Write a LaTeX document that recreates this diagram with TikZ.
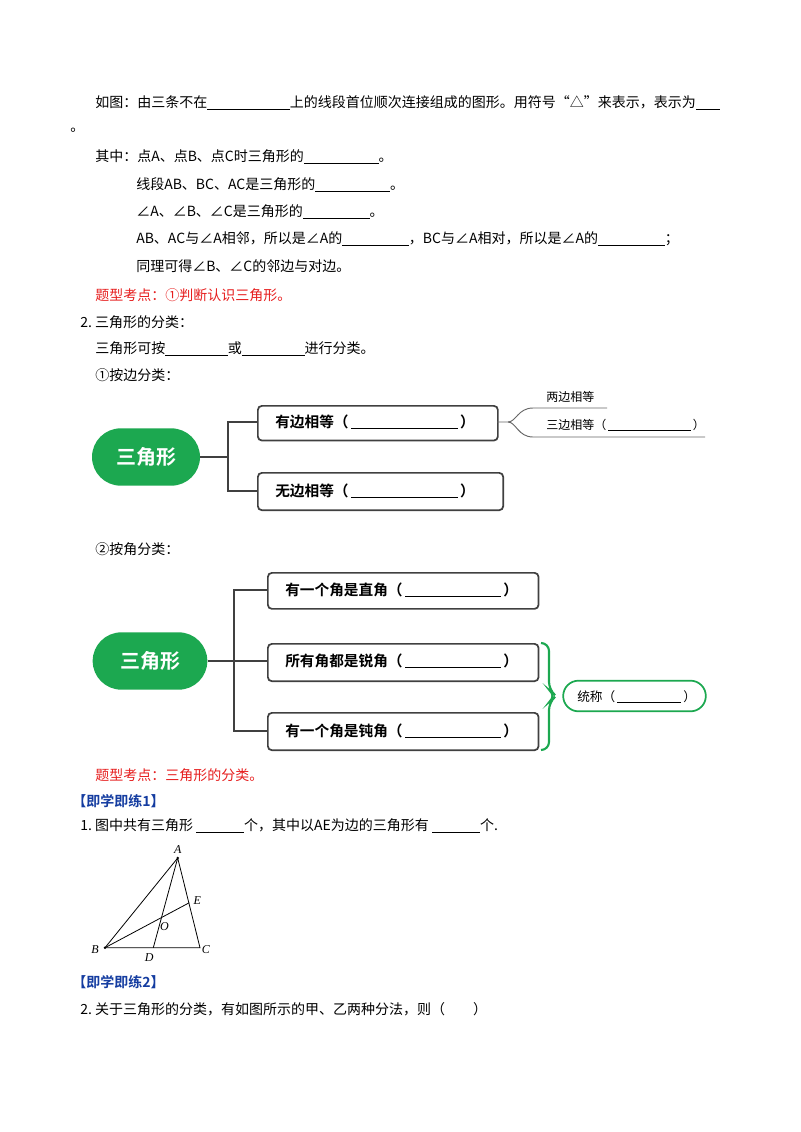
\documentclass[tikz,border=0pt]{standalone}
\usepackage{fontspec}
\setmainfont{Liberation Serif}
\newfontfamily\cjk{Noto Sans CJK SC}
\newfontfamily\cjkb{Noto Sans CJK SC Bold}
\usetikzlibrary{calc,intersections,shapes.misc}
\definecolor{gr}{RGB}{28,168,80}
\definecolor{rd}{RGB}{230,30,30}
\definecolor{bl}{RGB}{20,60,160}
\begin{document}
\begin{tikzpicture}[x=0.75pt,y=-0.75pt,
  txt/.style={anchor=west,inner sep=0,font=\cjk\fontsize{10.5}{12}\selectfont},
  box/.style={draw=black!75,line width=1.3pt,rounded corners=3pt,anchor=north west,inner sep=0},
  pill/.style={fill=gr,rounded rectangle,text=white,font=\cjkb\fontsize{15}{18}\selectfont,inner sep=0},
  btxt/.style={anchor=west,inner sep=0,font=\cjkb\fontsize{11}{13}\selectfont},
  ln/.style={draw=black!75,line width=1.6pt}]
\useasboundingbox (0,0) rectangle (800,1132);
\def\bl#1{\rule[-2pt]{#1}{0.6pt}}
\node[txt] (t1) at (95,103) {如图：由三条不在\bl{62pt}上的线段首位顺次连接组成的图形。用符号“△”来表示，表示为\bl{18pt}};
\node[txt] (t2) at (70,130) {。};
\node[txt] (t3) at (95,157) {其中：点A、点B、点C时三角形的\bl{56pt}。};
\node[txt] (t4) at (136,185) {线段AB、BC、AC是三角形的\bl{56pt}。};
\node[txt] (t5) at (136,212) {∠A、∠B、∠C是三角形的\bl{50pt}。};
\node[txt] (t6) at (136,239) {AB、AC与∠A相邻，所以是∠A的\bl{50pt}，BC与∠A相对，所以是∠A的\bl{50pt}；};
\node[txt] (t7) at (136,266) {同理可得∠B、∠C的邻边与对边。};
\node[txt,text=rd] (t8) at (95,295) {题型考点：①判断认识三角形。};
\node[txt] (t9) at (80,322) {2.\ 三角形的分类：};
\node[txt] (t10) at (95,349) {三角形可按\bl{47pt}或\bl{47pt}进行分类。};
\node[txt] (t11) at (95,375) {①按边分类：};
% diagram 1
\node[pill,minimum width=81pt,minimum height=43pt] (p1) at (146,457) {三角形};
\node[box,minimum width=180pt,minimum height=26pt] (b1) at (257,405) {};
\node[btxt] at (275,422) {有边相等（\,\rule[-1pt]{80pt}{0.6pt}\,）};
\node[box,minimum width=184pt,minimum height=28pt] (b2) at (257,472) {};
\node[btxt] at (275,491) {无边相等（\,\rule[-1pt]{80pt}{0.6pt}\,）};
\coordinate (j1) at (228,457);
\draw[ln] (p1.east) -- (j1);
\draw[ln] (b1.west|-0,422) -| (j1) |- (b2.west|-0,491);
\draw[black!60,line width=0.7pt] (497,422) -- (508,422) .. controls (516,422) and (518,408) .. (533,408) -- (607,408);
\draw[black!60,line width=0.7pt] (508,422) .. controls (516,422) and (518,437) .. (533,437) -- (705,437);
\node[txt,font=\cjk\fontsize{9}{11}\selectfont] (s1) at (546,397) {两边相等};
\node[txt,font=\cjk\fontsize{9}{11}\selectfont] (s2) at (546,425) {三边相等（\,\rule[-1pt]{62pt}{0.5pt}\,）};
\node[txt] (t12) at (95,549) {②按角分类：};
% diagram 2
\node[pill,minimum width=86pt,minimum height=43pt] (p2) at (150,661) {三角形};
\node[box,minimum width=203pt,minimum height=27pt] (c1) at (267,572) {};
\node[btxt] at (285,590) {有一个角是直角（\,\rule[-1pt]{72pt}{0.6pt}\,）};
\node[box,minimum width=203pt,minimum height=28pt] (c2) at (267,643) {};
\node[btxt] at (285,661) {所有角都是锐角（\,\rule[-1pt]{72pt}{0.6pt}\,）};
\node[box,minimum width=203pt,minimum height=28pt] (c3) at (267,712) {};
\node[btxt] at (285,731) {有一个角是钝角（\,\rule[-1pt]{72pt}{0.6pt}\,）};
\coordinate (j2) at (234,661);
\draw[ln] (p2.east) -- (c2.west|-0,661);
\draw[ln] (c1.west|-0,590) -| (j2) |- (c3.west|-0,731);
\draw[gr,line width=1.6pt,rounded corners=6pt] (541,643) -- (549,643) -- (549,690) -- (556,696) -- (549,702) -- (549,750) -- (541,750);
\node[draw=gr,line width=1.3pt,rounded rectangle,minimum width=107pt,minimum height=23pt,inner sep=0] (tc) at (634.5,696) {};
\node[txt,font=\cjk\fontsize{9.5}{11}\selectfont] at (577,697) {统称（\,\rule[-1pt]{48pt}{0.8pt}\,）};
\node[txt,text=rd] (t13) at (95,775) {题型考点：三角形的分类。};
\node[txt,text=bl,font=\cjkb\fontsize{10.5}{12}\selectfont] (t14) at (72,801) {【即学即练1】};
\node[txt] (t15) at (80,826) {1.\ 图中共有三角形 \bl{36pt}个，其中以\textit{AE}为边的三角形有 \bl{36pt}个.};
% triangle
\coordinate (A) at (177.7,858); \coordinate (B) at (105,947.7);
\coordinate (C) at (200,947.7); \coordinate (D) at (153.3,947.7);
\coordinate (E) at (189.3,902.7);
\draw[line width=0.6pt] (A)--(B)--(C)--cycle;
\draw[line width=0.6pt,name path=ad] (A)--(D);
\draw[line width=0.6pt,name path=be] (B)--(E);
\path[name intersections={of=ad and be,by=O}];
\fill (A) circle (1pt) (B) circle (1pt);
\node[font=\itshape\small] at ($(A)+(0,-8)$) {A};
\node[font=\itshape\small] at ($(B)+(-10,2)$) {B};
\node[font=\itshape\small] at ($(C)+(6,2)$) {C};
\node[font=\itshape\small] at ($(D)+(-4,10)$) {D};
\node[font=\itshape\small] at ($(E)+(8,-2)$) {E};
\node[font=\itshape\small] at ($(O)+(3,9)$) {O};
\node[txt,text=bl,font=\cjkb\fontsize{10.5}{12}\selectfont] (t16) at (72,982) {【即学即练2】};
\node[txt] (t17) at (80,1009) {2.\ 关于三角形的分类，有如图所示的甲、乙两种分法，则（\quad\quad）};
\end{tikzpicture}
\end{document}
